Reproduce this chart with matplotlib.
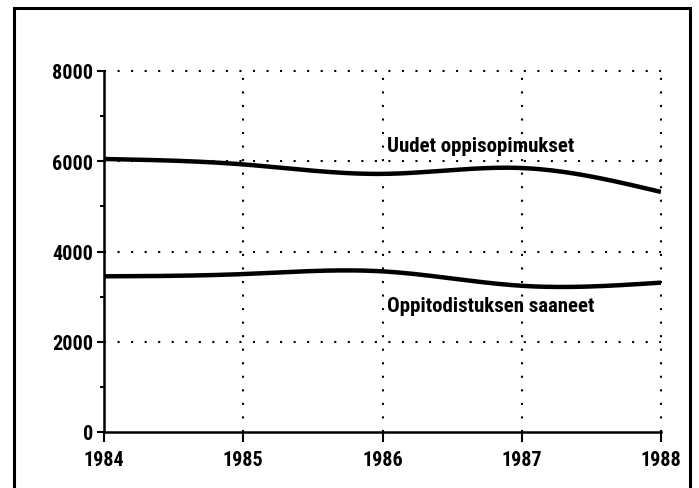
import matplotlib
matplotlib.use("Agg")
import matplotlib.pyplot as plt
from matplotlib.patches import Rectangle
import numpy as np

plt.rcParams['font.family'] = ['Roboto Condensed', 'DejaVu Sans']
plt.rcParams['font.stretch'] = 'condensed'
plt.rcParams['font.weight'] = 'bold'

# data
years = [1984, 1985, 1986, 1987, 1988]
uudet = [6050, 5930, 5720, 5850, 5320]        # Uudet oppisopimukset
todistus = [3450, 3500, 3560, 3240, 3310]     # Oppitodistuksen saaneet
y_ticks = [0, 2000, 4000, 6000, 8000]
y_minor = [1000, 3000, 5000, 7000]
label_upper = "Uudet oppisopimukset"
label_lower = "Oppitodistuksen saaneet"


def natural_spline(x, y, n=200):
    # smooth curve through the points (natural cubic spline)
    x = np.asarray(x, float)
    y = np.asarray(y, float)
    k = len(x)
    h = np.diff(x)
    A = np.zeros((k, k))
    b = np.zeros(k)
    A[0, 0] = A[-1, -1] = 1
    for i in range(1, k - 1):
        A[i, i - 1] = h[i - 1]
        A[i, i] = 2 * (h[i - 1] + h[i])
        A[i, i + 1] = h[i]
        b[i] = 6 * ((y[i + 1] - y[i]) / h[i] - (y[i] - y[i - 1]) / h[i - 1])
    m = np.linalg.solve(A, b)
    xs = np.linspace(x[0], x[-1], n)
    idx = np.clip(np.searchsorted(x, xs) - 1, 0, k - 2)
    x0, x1 = x[idx], x[idx + 1]
    hh = x1 - x0
    t0, t1 = x1 - xs, xs - x0
    ys = (m[idx] * t0**3 + m[idx + 1] * t1**3) / (6 * hh) \
        + (y[idx] / hh - m[idx] * hh / 6) * t0 \
        + (y[idx + 1] / hh - m[idx + 1] * hh / 6) * t1
    return xs, ys


fig = plt.figure(figsize=(6.99, 4.89), dpi=100)
ax = fig.add_axes([104 / 699, 1 - 433 / 489, (661 - 104) / 699, (433 - 72) / 489])

# outer frame of the page
fig.patches.append(Rectangle((13.5 / 699, -0.1), (690 - 13.5) / 699, 1.1 - 8.5 / 489,
                             transform=fig.transFigure, fill=False, lw=2.2, ec="black"))

# dotted grid
for yv in y_ticks[1:]:
    ax.axhline(yv, color="black", lw=1.5, linestyle=(0, (1, 5.5)), dash_capstyle="butt",
               clip_on=False, zorder=1)
for xv in years[1:]:
    ax.axvline(xv, color="black", lw=1.5, linestyle=(0, (1, 5.5)), dash_capstyle="butt",
               clip_on=False, zorder=1)

xs, ys = natural_spline(years, uudet)
ax.plot(xs, ys, color="black", lw=3.2, solid_capstyle="butt", zorder=3)
xs, ys = natural_spline(years, todistus)
ax.plot(xs, ys, color="black", lw=3.2, solid_capstyle="butt", zorder=3)

ax.text(1986.03, 6230, label_upper, fontsize=15, fontweight="bold", va="baseline", ha="left")
ax.text(1986.03, 2690, label_lower, fontsize=15, fontweight="bold", va="baseline", ha="left")

ax.set_xlim(1984, 1988)
ax.set_ylim(0, 8000)
ax.set_xticks(years)
ax.set_xticklabels([str(v) for v in years])
ax.set_yticks(y_ticks)
ax.set_yticks(y_minor, minor=True)
ax.tick_params(axis="y", which="major", length=5, width=1.5, pad=3, labelsize=14.5)
ax.tick_params(axis="y", which="minor", length=3, width=1.5)
ax.tick_params(axis="x", which="major", length=7, width=1.5, pad=6, labelsize=14.5)
for lab in ax.get_xticklabels() + ax.get_yticklabels():
    lab.set_fontweight("bold")

for s in ["top", "right"]:
    ax.spines[s].set_visible(False)
for s in ["left", "bottom"]:
    ax.spines[s].set_linewidth(1.8)

fig.savefig("out.png", dpi=100)
